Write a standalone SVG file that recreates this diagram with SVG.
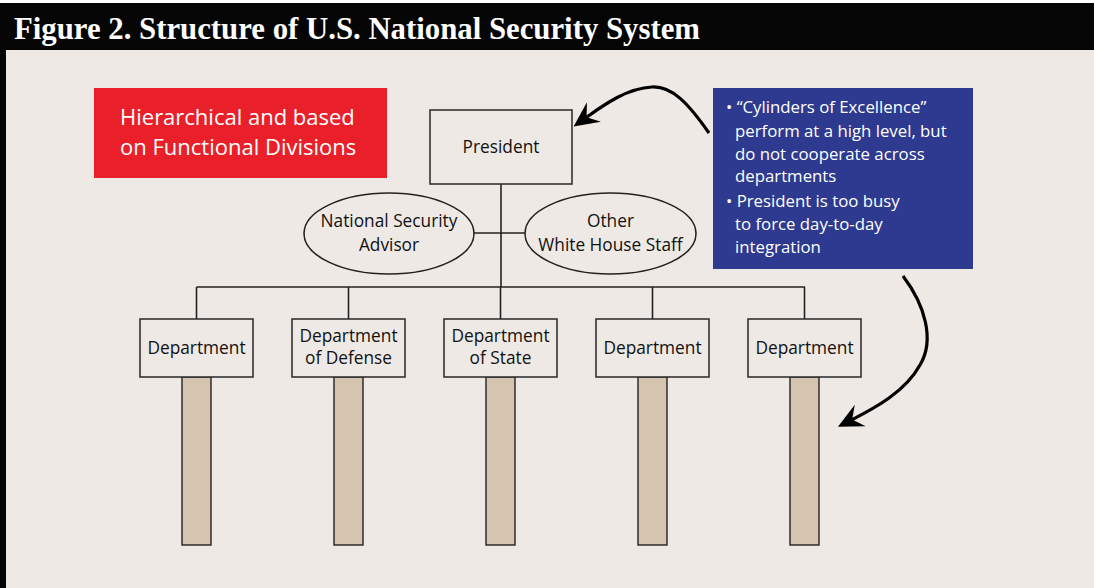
<svg xmlns="http://www.w3.org/2000/svg" width="1094" height="588" viewBox="0 0 1094 588">
<style>
.box{fill:#EEE9E5;stroke:#333;stroke-width:1.6}
.ell{fill:#EEE9E5;stroke:#222;stroke-width:1.6}
.bar{fill:#D5C4AF;stroke:#222;stroke-width:1.4}
.lbl{font-family:"Open Sans","Liberation Sans",sans-serif;font-size:17.3px;fill:#111;text-anchor:middle}
.wt{font-family:"Open Sans","Liberation Sans",sans-serif;fill:#fff}
.ln{stroke:#222;stroke-width:1.6;fill:none}
.arr{stroke:#000;stroke-width:3.2;fill:none;marker-end:url(#ah)}
</style>
<defs>
<marker id="ah" viewBox="-26 -13 28 26" refX="-16" refY="0" markerWidth="28" markerHeight="26" markerUnits="userSpaceOnUse" orient="auto">
<path d="M0,0 L-25,-12 L-16,0 L-25,12 Z" fill="#000"/>
</marker>
</defs>
<rect x="0" y="0" width="1094" height="588" fill="#fff"/>
<rect x="0" y="3" width="1094" height="585" fill="#050505"/>
<rect x="6" y="50" width="1088" height="538" fill="#EEE9E5"/>
<text x="14" y="39" font-family="Liberation Serif,serif" font-weight="bold" font-size="32" fill="#fff" textLength="686" lengthAdjust="spacingAndGlyphs">Figure 2. Structure of U.S. National Security System</text>

<g id="connectors">
<line class="ln" x1="501" y1="184" x2="501" y2="287"/>
<line class="ln" x1="474" y1="233" x2="525" y2="233"/>
<line class="ln" x1="196.5" y1="287" x2="805" y2="287"/>
<line class="ln" x1="196.5" y1="287" x2="196.5" y2="319"/>
<line class="ln" x1="348.5" y1="287" x2="348.5" y2="319"/>
<line class="ln" x1="500.5" y1="287" x2="500.5" y2="319"/>
<line class="ln" x1="652.5" y1="287" x2="652.5" y2="319"/>
<line class="ln" x1="804.5" y1="287" x2="804.5" y2="319"/>
<path class="arr" d="M709,133 C688,103 672,86 652,87 C628,88 605,104 586.6,117.2"/>
<path class="arr" d="M903,276 C925,305 935,340 920,365 C905,392 875,408 852.2,419.6"/>
</g>

<g id="label-hierarchical">
<rect x="94" y="88" width="293" height="90" fill="#E91F29"/>
<text class="wt" x="120" y="125" font-size="22">Hierarchical and based</text>
<text class="wt" x="120" y="155" font-size="22">on Functional Divisions</text>
</g>

<g id="note">
<rect x="713" y="88" width="260" height="181" fill="#2D3A8F"/>
<g class="wt" font-size="16.8">
<text x="726" y="113">• “Cylinders of Excellence”</text>
<text x="735" y="137">perform at a high level, but</text>
<text x="735" y="160">do not cooperate across</text>
<text x="735" y="182">departments</text>
<text x="726" y="207">• President is too busy</text>
<text x="735" y="230">to force day-to-day</text>
<text x="735" y="253">integration</text>
</g>
</g>

<g id="president">
<rect class="box" x="430" y="110" width="142" height="74"/>
<text class="lbl" x="501" y="153">President</text>
</g>

<g id="nsa">
<ellipse class="ell" cx="389" cy="233.5" rx="85" ry="40.5"/>
<text class="lbl" x="389" y="227">National Security</text>
<text class="lbl" x="389" y="251">Advisor</text>
</g>

<g id="whitehouse">
<ellipse class="ell" cx="610.5" cy="233.5" rx="85.5" ry="40.5"/>
<text class="lbl" x="610.5" y="227">Other</text>
<text class="lbl" x="610.5" y="251">White House Staff</text>
</g>

<g id="dept1">
<rect class="bar" x="182" y="377" width="29" height="168"/>
<rect class="box" x="140" y="319" width="113" height="58"/>
<text class="lbl" x="196.5" y="354">Department</text>
</g>
<g id="dept-defense">
<rect class="bar" x="334" y="377" width="29" height="168"/>
<rect class="box" x="292" y="319" width="113" height="58"/>
<text class="lbl" x="348.5" y="342">Department</text>
<text class="lbl" x="348.5" y="364">of Defense</text>
</g>
<g id="dept-state">
<rect class="bar" x="486" y="377" width="29" height="168"/>
<rect class="box" x="444" y="319" width="113" height="58"/>
<text class="lbl" x="500.5" y="342">Department</text>
<text class="lbl" x="500.5" y="364">of State</text>
</g>
<g id="dept4">
<rect class="bar" x="638" y="377" width="29" height="168"/>
<rect class="box" x="596" y="319" width="113" height="58"/>
<text class="lbl" x="652.5" y="354">Department</text>
</g>
<g id="dept5">
<rect class="bar" x="790" y="377" width="29" height="168"/>
<rect class="box" x="748" y="319" width="113" height="58"/>
<text class="lbl" x="804.5" y="354">Department</text>
</g>
</svg>
